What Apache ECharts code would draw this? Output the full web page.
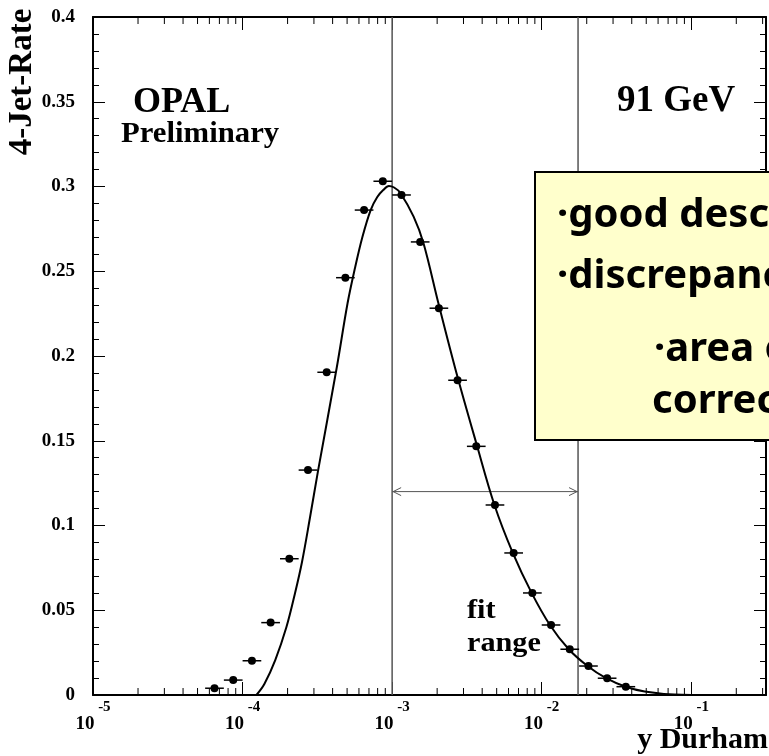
<!DOCTYPE html>
<html><head><meta charset="utf-8">
<script src="https://cdn.jsdelivr.net/npm/echarts@6/dist/echarts.min.js"></script>
<style>html,body{margin:0;padding:0;background:#fff;overflow:hidden}#c{width:769px;height:756px}</style>
</head><body><div id="c"></div>
<script>
// ---- data ----
const binCenters = [6.49e-5, 8.66e-5, 1.155e-4, 1.54e-4, 2.054e-4, 2.738e-4, 3.652e-4, 4.87e-4, 6.494e-4, 8.66e-4,
  1.155e-3, 1.54e-3, 2.054e-3, 2.738e-3, 3.652e-3, 4.87e-3, 6.494e-3, 8.66e-3, 1.155e-2, 1.54e-2, 2.054e-2, 2.738e-2, 3.652e-2];
const rate4jet = [0.0040, 0.0088, 0.0202, 0.0427, 0.0804, 0.1327, 0.1904, 0.2462, 0.2861, 0.3031, 0.2950, 0.2673,
  0.2282, 0.1857, 0.1467, 0.1121, 0.0838, 0.0602, 0.0413, 0.0270, 0.0171, 0.0099, 0.0049];
const fitX = [1.238e-4, 1.399e-4, 1.654e-4, 1.965e-4, 2.244e-4, 2.497e-4, 2.820e-4, 3.187e-4, 4.258e-4,
  5.035e-4, 5.644e-4, 6.328e-4, 7.184e-4, 7.956e-4, 8.719e-4, 9.510e-4, 1.031e-3, 1.135e-3, 1.392e-3, 1.621e-3,
  2.039e-3, 2.695e-3, 3.655e-3, 4.832e-3, 6.397e-3, 8.546e-3, 1.135e-2, 1.517e-2, 2.026e-2, 2.695e-2, 3.638e-2,
  4.884e-2, 7.716e-2, 0.142];
const fitY = [0, 0.0065, 0.0206, 0.0401, 0.0602, 0.0785, 0.1044, 0.1316, 0.1929,
  0.2311, 0.2519, 0.2702, 0.2861, 0.2938, 0.2979, 0.3003, 0.2994, 0.2962, 0.2822, 0.2665,
  0.2311, 0.1898, 0.1485, 0.1121, 0.0840, 0.0604, 0.0413, 0.0270, 0.0171, 0.0099, 0.0049,
  0.0021, 0.0003, 0];
const fitRange = [1e-3, 0.0175];
const fitArrowY = 0.12;
const xMin = 1e-5, xMax = 0.316;
const yMin = 0, yMax = 0.4, yStep = 0.05;
const boxLines = ['\u00B7good description of data', '\u00B7discrepancies at low y', '\u00B7area of hadronisation', 'corrections'];

// ---- chart ----
const SERIF = '"Liberation Serif", "DejaVu Serif", serif';
const BOXFONT = '"Comic Sans MS", "Noto Sans", sans-serif';
const BIN_HALF = Math.pow(10, 1 / 16);
const minorX = [];
for (let k = -5; k <= -1; k++) for (let m = 2; m <= 9; m++) { const v = m * Math.pow(10, k); if (v < xMax) minorX.push(v); }

const chart = echarts.init(document.getElementById('c'), null, {renderer: 'canvas'});
const xLabel = {
  show: true, margin: 5,
  formatter: v => { const l = Math.log10(v); const r = Math.round(l); if (Math.abs(l - r) > 1e-6) return ''; return '{b|10}{s| ' + r + '}'; },
  rich: {
    b: {fontFamily: SERIF, fontWeight: 'bold', fontSize: 19, color: '#000', lineHeight: 34, verticalAlign: 'bottom'},
    s: {fontFamily: SERIF, fontWeight: 'bold', fontSize: 15, color: '#000', lineHeight: 25, verticalAlign: 'top'}
  }
};
function txt(text, x, y, size, extra) {
  return Object.assign({type: 'text', x: x, y: y, z: 10,
    style: {text: text, fontFamily: SERIF, fontWeight: 'bold', fontSize: size, fill: '#000', align: 'left', verticalAlign: 'middle'}}, extra || {});
}
function boxTxt(text, x, y) {
  return {type: 'text', x: x, y: y, z: 21,
    style: {text: text, fontFamily: BOXFONT, fontWeight: 'bold', fontSize: 40, fill: '#000', verticalAlign: 'middle'}};
}
const option = {
  animation: false,
  backgroundColor: '#fff',
  grid: {left: 93, top: 17, width: 679, height: 678, containLabel: false},
  xAxis: [
    {type: 'log', logBase: 10, min: xMin, max: xMax, position: 'bottom',
     axisLine: {show: true, onZero: false, lineStyle: {color: '#000', width: 2}},
     axisTick: {show: true, inside: true, length: 13, lineStyle: {color: '#000', width: 1}},
     axisLabel: xLabel, splitLine: {show: false}},
    {type: 'log', logBase: 10, min: xMin, max: xMax, position: 'top',
     axisLine: {show: true, onZero: false, lineStyle: {color: '#000', width: 2}},
     axisTick: {show: true, inside: true, length: 13, lineStyle: {color: '#000', width: 1}},
     axisLabel: {show: false}, splitLine: {show: false}}
  ],
  yAxis: [
    {type: 'value', min: yMin, max: yMax, interval: yStep, position: 'left',
     axisLine: {show: true, onZero: false, lineStyle: {color: '#000', width: 2}},
     axisTick: {show: true, inside: true, length: 12, lineStyle: {color: '#000', width: 1}},
     minorTick: {show: true, splitNumber: 5, length: 6, lineStyle: {color: '#000', width: 1}},
     axisLabel: {margin: 18, fontFamily: SERIF, fontWeight: 'bold', fontSize: 19, color: '#000'},
     splitLine: {show: false}},
    {type: 'value', min: yMin, max: yMax, interval: yStep, position: 'right',
     axisLine: {show: true, onZero: false, lineStyle: {color: '#000', width: 2}},
     axisTick: {show: true, inside: true, length: 12, lineStyle: {color: '#000', width: 1}},
     minorTick: {show: true, splitNumber: 5, length: 6, lineStyle: {color: '#000', width: 1}},
     axisLabel: {show: false}, splitLine: {show: false}}
  ],
  series: [
    {type: 'custom', name: 'minor ticks', silent: true, z: 3,
     data: minorX.map(v => [v, 0]), encode: {x: 0, y: 1},
     renderItem: (p, api) => {
       const b = api.coord([api.value(0), yMin]);
       const t = api.coord([api.value(0), yMax]);
       return {type: 'group', children: [
         {type: 'line', shape: {x1: b[0], y1: b[1], x2: b[0], y2: b[1] - 7}, style: {stroke: '#000', lineWidth: 1}},
         {type: 'line', shape: {x1: t[0], y1: t[1], x2: t[0], y2: t[1] + 7}, style: {stroke: '#000', lineWidth: 1}}
       ]};
     }},
    {type: 'custom', name: 'fit range', silent: true, z: 2,
     data: [[fitRange[0], fitArrowY, fitRange[1]]], encode: {x: [0, 2], y: 1},
     renderItem: (p, api) => {
       const lo = api.value(0), hi = api.value(2), ay = api.value(1);
       const a = api.coord([lo, ay]), b = api.coord([hi, ay]);
       const lb = api.coord([lo, yMin]), lt = api.coord([lo, yMax]);
       const hb = api.coord([hi, yMin]), ht = api.coord([hi, yMax]);
       const st = {stroke: '#555', lineWidth: 1.5, fill: null};
       return {type: 'group', children: [
         {type: 'line', shape: {x1: lb[0], y1: lb[1], x2: lt[0], y2: lt[1]}, style: st},
         {type: 'line', shape: {x1: hb[0], y1: hb[1], x2: ht[0], y2: ht[1]}, style: st},
         {type: 'line', shape: {x1: a[0], y1: a[1], x2: b[0], y2: b[1]}, style: {stroke: '#555', lineWidth: 1}},
         {type: 'polyline', shape: {points: [[a[0] + 9, a[1] - 4], [a[0] + 1, a[1]], [a[0] + 9, a[1] + 4]]}, style: {stroke: '#555', lineWidth: 1, fill: null}},
         {type: 'polyline', shape: {points: [[b[0] - 9, b[1] - 4], [b[0] - 1, b[1]], [b[0] - 9, b[1] + 4]]}, style: {stroke: '#555', lineWidth: 1, fill: null}}
       ]};
     }},
    {type: 'line', name: 'fit', z: 4, showSymbol: false, smooth: 0.35, silent: true,
     data: fitX.map((x, i) => [x, fitY[i]]), lineStyle: {color: '#000', width: 2}},
    {type: 'custom', name: 'OPAL data', silent: true, z: 5,
     data: binCenters.map((x, i) => [x, rate4jet[i]]), encode: {x: 0, y: 1},
     renderItem: (p, api) => {
       const x = api.value(0), y = api.value(1);
       const c = api.coord([x, y]);
       const l = api.coord([x / BIN_HALF, y]), r = api.coord([x * BIN_HALF, y]);
       return {type: 'group', children: [
         {type: 'line', shape: {x1: l[0], y1: c[1], x2: r[0], y2: c[1]}, style: {stroke: '#000', lineWidth: 1.5}},
         {type: 'circle', shape: {cx: c[0], cy: c[1], r: 4}, style: {fill: '#000'}}
       ]};
     }}
  ],
  graphic: [
    txt('4-Jet-Rate', 22, 82, 33, {rotation: Math.PI / 2, style: {text: '4-Jet-Rate', fontFamily: SERIF, fontWeight: 'bold', fontSize: 33, fill: '#000', align: 'center', verticalAlign: 'middle'}}),
    txt('y Durham', 768, 740, 30, {style: {text: 'y Durham', fontFamily: SERIF, fontWeight: 'bold', fontSize: 30, fill: '#000', align: 'right', verticalAlign: 'middle'}}),
    txt('OPAL', 133, 103, 36),
    txt('Preliminary', 121, 135, 29, {scaleX: 1.06}),
    txt('91 GeV', 617, 101, 37),
    txt('fit', 467, 611, 28, {scaleX: 1.08}),
    txt('range', 467, 644, 28, {scaleX: 1.08}),
    {type: 'rect', x: 535, y: 172, z: 20, shape: {width: 320, height: 268},
     style: {fill: '#ffffcc', stroke: '#000', lineWidth: 2}},
    boxTxt(boxLines[0], 557, 216),
    boxTxt(boxLines[1], 557, 277),
    boxTxt(boxLines[2], 654, 350),
    boxTxt(boxLines[3], 652, 402)
  ]
};
chart.setOption(option);
</script>
</body></html>
